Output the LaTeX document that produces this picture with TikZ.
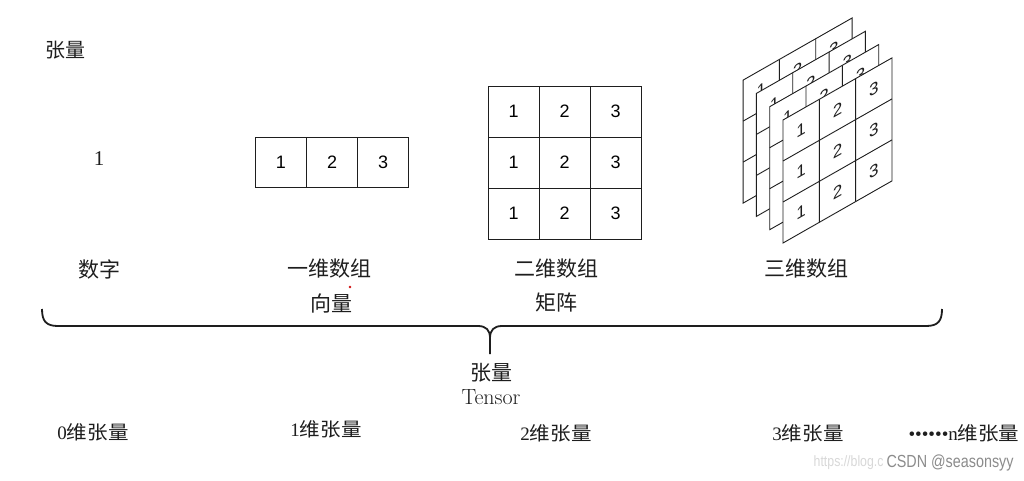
\documentclass[tikz,border=0pt]{standalone}
\usepackage{fontspec}
\usetikzlibrary{positioning}
\newfontfamily\cjk{Noto Sans CJK SC}
\newfontfamily\cjkwide[FakeStretch=1.08]{Noto Sans CJK SC}
\newfontfamily\serifdigit{Liberation Serif}
\newfontfamily\digitfont{Liberation Sans}
\newfontfamily\marksans[FakeStretch=0.82]{Liberation Sans}
\definecolor{ink}{HTML}{1E1E1E}
\definecolor{faint}{HTML}{8C8C8C}
\definecolor{ghost}{HTML}{D8D8D8}
\definecolor{dotred}{HTML}{D01010}

\tikzset{
  cell/.style={draw=ink,line width=0.9pt,minimum width=51pt,minimum height=51pt,
    inner sep=0pt,outer sep=0pt,font=\digitfont\fontsize{18}{18}\selectfont},
  lbl/.style={font=\cjk\fontsize{21}{23}\selectfont,text=ink},
  dimlbl/.style={font=\cjkwide\fontsize{19}{21}\selectfont,text=ink},
}

\begin{document}
\begin{tikzpicture}[x=1pt,y=-1pt]
  \fill[white] (0,0) rectangle (1024,480);
  \useasboundingbox (0,0) rectangle (1024,480);

  \node[lbl,font=\cjk\fontsize{20}{22}\selectfont] (title) at (65,50) {张量};

  % 0-dim
  \node[font=\serifdigit\fontsize{21}{21}\selectfont,text=ink] (scalar) at (99,159) {1};

  % 1-dim
  \node[cell,minimum height=50pt] (v1) at (281,162) {1};
  \node[cell,minimum height=50pt,right=0pt of v1] (v2) {2};
  \node[cell,minimum height=50pt,right=0pt of v2] (v3) {3};

  % 2-dim
  \foreach \r in {0,1,2}
    \foreach \c in {1,2,3}
      \node[cell] (m\r\c) at (462.5+51*\c,111.5+51*\r) {\c};

  % 3-dim, back layer first
  \foreach \k in {3,2,1,0} {
    \begin{scope}[shift={(783-13.3*\k,120-13.3*\k)},yslant=0.57]
      \draw[ink,line width=0.9pt,fill=white] (0,0) rectangle (109,123);
      \draw[ink,line width=0.9pt] (36.33,0) -- (36.33,123) (72.67,0) -- (72.67,123)
        (0,41) -- (109,41) (0,82) -- (109,82);
      \foreach \r in {0,1,2}
        \foreach \c in {1,2,3}
          \node[transform shape,font=\digitfont\fontsize{17}{17}\selectfont,text=ink]
            (t\k\r\c) at (36.33*\c-18.17,20.5+41*\r) {\c};
    \end{scope}
  }

  % labels
  \node[lbl] (num) at (99,269) {数字};
  \node[lbl] (vec1) at (329,269) {一维数组};
  \node[lbl] (vec2) at (331,303) {向量};
  \node[lbl] (mat1) at (556,269) {二维数组};
  \node[lbl] (mat2) at (556,303) {矩阵};
  \node[lbl] (cube) at (806,269) {三维数组};
  \fill[dotred] (350,287) circle (1.3);

  % brace
  \draw[ink,line width=1.8pt] (42,309) .. controls (42,321) and (46,326) .. (58,326)
    -- (478,326) .. controls (486,326) and (490,330) .. (490,338) -- (490,354)
    -- (490,338) .. controls (490,330) and (494,326) .. (502,326)
    -- (926,326) .. controls (938,326) and (942,321) .. (942,309);

  \node[lbl] (tensor) at (491,373) {张量};
  \node[font=\fontsize{22}{24}\selectfont,text=ink,below=0pt of tensor] (tensoren) {Tensor};

  % dimensions
  \node[dimlbl] (d0) at (93,432) {{\serifdigit 0}维张量};
  \node[dimlbl] (d1) at (326,429) {{\serifdigit 1}维张量};
  \node[dimlbl] (d2) at (556,433) {{\serifdigit 2}维张量};
  \node[dimlbl] (d3) at (808,433) {{\serifdigit 3}维张量};
  \node[dimlbl] (dn) at (964,433) {{\serifdigit\textbullet\textbullet\textbullet\textbullet\textbullet\textbullet n}维张量};

  \node[font=\marksans\fontsize{15}{15}\selectfont,text=ghost,anchor=east] (url) at (887,463) {https://blog.c};
  \node[font=\marksans\fontsize{17.5}{17.5}\selectfont,text=faint,right=-4pt of url] (mark) {CSDN @seasonsyy};
\end{tikzpicture}
\end{document}
